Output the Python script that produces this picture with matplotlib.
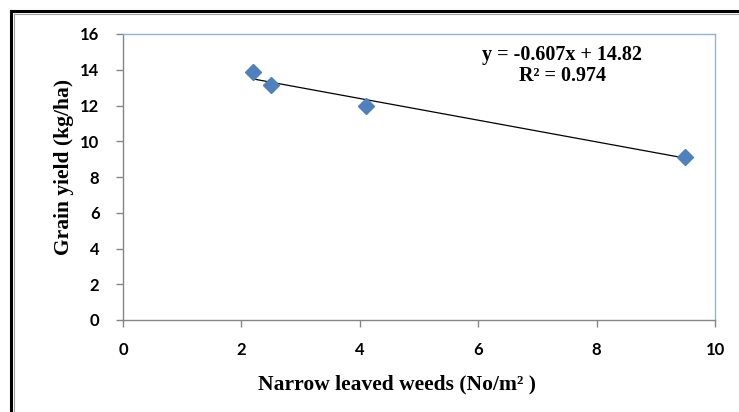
import matplotlib.pyplot as plt
from matplotlib.lines import Line2D

# data
weeds = [2.2, 2.5, 4.1, 9.5]          # narrow leaved weeds (No/m2)
grain_yield = [13.85, 13.15, 11.95, 9.12]
slope, intercept = -0.607, 14.82
r_squared = 0.974
x_ticks = [0, 2, 4, 6, 8, 10]
y_ticks = [0, 2, 4, 6, 8, 10, 12, 14, 16]

W, H = 739, 412
fig = plt.figure(figsize=(W / 100, H / 100), dpi=100)
ax = fig.add_axes([123 / W, 1 - 320 / H, (715 - 123) / W, (320 - 34) / H])

# scatter points + linear trend line
ax.plot(weeds, grain_yield, linestyle='none', marker='D', markersize=8.5,
        color='#4F81BD', zorder=3)
x_fit = [min(weeds), max(weeds)]
y_fit = [slope * x + intercept for x in x_fit]
ax.plot(x_fit, y_fit, color='black', linewidth=0.9, zorder=2)

ax.set_xlim(0, 10)
ax.set_ylim(0, 16)
ax.set_xticks(x_ticks)
ax.set_yticks(y_ticks)

tick_font = {'family': 'Lato', 'weight': 'bold', 'size': 12}
ax.set_xticklabels([str(t) for t in x_ticks], fontdict=tick_font)
ax.set_yticklabels([str(t) for t in y_ticks], fontdict=tick_font)
ax.tick_params(axis='both', direction='out', length=5, width=1, color='#868686')
ax.tick_params(axis='x', pad=11)
ax.tick_params(axis='y', pad=12)

for side in ['left', 'bottom']:
    ax.spines[side].set_color('#868686')
    ax.spines[side].set_linewidth(1)
for side in ['top', 'right']:
    ax.spines[side].set_color('#8EB4E3')
    ax.spines[side].set_linewidth(1)

label_font = {'family': 'Liberation Serif', 'weight': 'bold', 'size': 15.5}
ax.set_xlabel('Narrow leaved weeds (No/m² )', fontdict=label_font)
ax.set_ylabel('Grain yield (kg/ha)', fontdict=label_font)
ax.xaxis.set_label_coords(0.462, -0.19)
ax.yaxis.set_label_coords(-0.083, 0.535)

ax.text(0.742, 0.96, f'y = {slope}x + {intercept}\nR² = {r_squared}',
        transform=ax.transAxes, ha='center', va='top', linespacing=1.05,
        family='Liberation Serif', weight='bold', fontsize=14.5)

# outer frame of the picture (double line, running off right/bottom)
fig.add_artist(Line2D([10.5 / W, 10.5 / W], [0, 1 - 10.5 / H], color='black', linewidth=2.2,
                      transform=fig.transFigure))
fig.add_artist(Line2D([10.5 / W, 1], [1 - 10.5 / H, 1 - 10.5 / H], color='black', linewidth=2.2,
                      transform=fig.transFigure))
fig.add_artist(Line2D([13.5 / W, 13.5 / W], [0, 1 - 13.5 / H], color='#A0A0A0', linewidth=0.8,
                      transform=fig.transFigure))
fig.add_artist(Line2D([13.5 / W, 1], [1 - 13.5 / H, 1 - 13.5 / H], color='#A0A0A0', linewidth=0.8,
                      transform=fig.transFigure))

fig.savefig('out.png', dpi=100)
